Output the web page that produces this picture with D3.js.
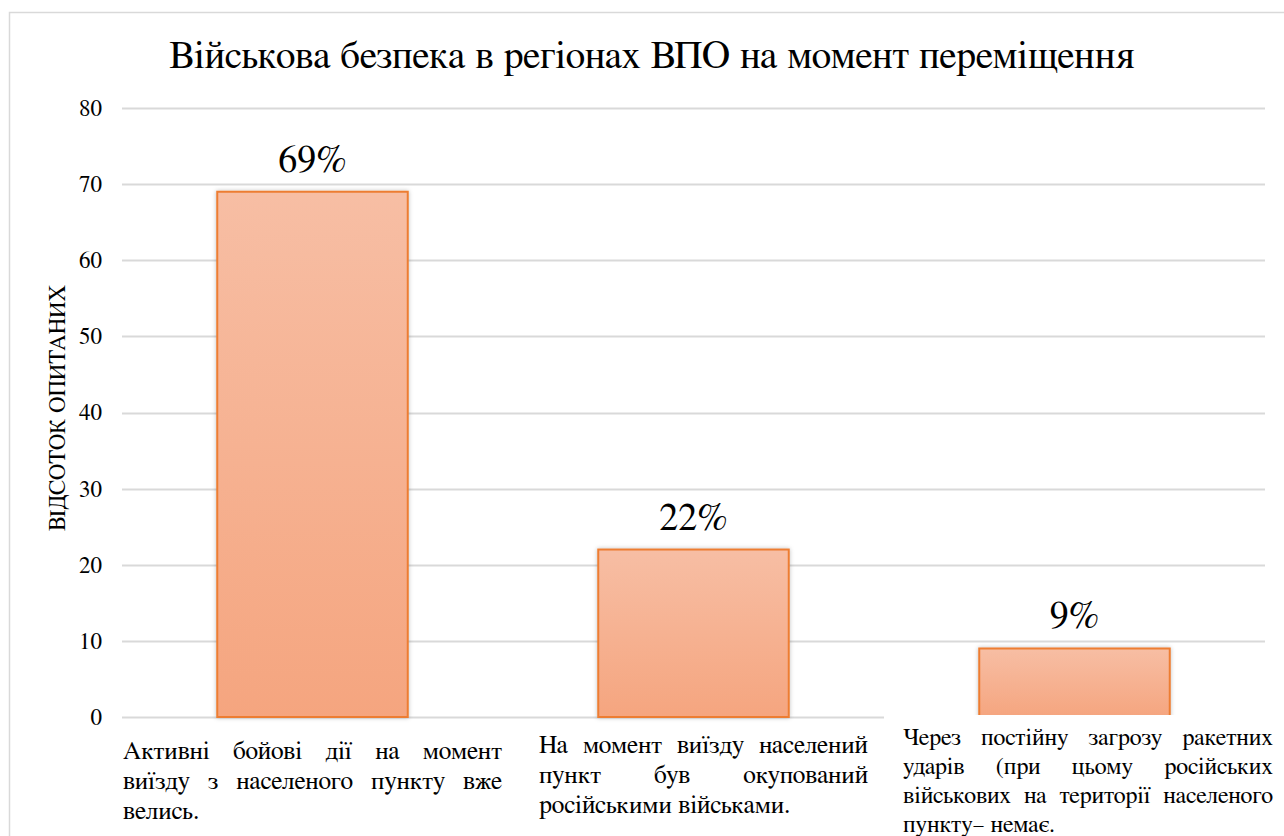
<!DOCTYPE html>
<html><head><meta charset="utf-8">
<script src="https://cdn.jsdelivr.net/npm/d3@7"></script>
<style>body{margin:0;background:#fff}svg{display:block}</style>
</head><body>
<svg id="c" width="1284" height="836"></svg>
<script>
const title = "Військова безпека в регіонах ВПО на момент переміщення";
const yAxisTitle = "ВІДСОТОК ОПИТАНИХ";
const categories = [
  "Активні бойові дії на момент\nвиїзду з населеного пункту вже\nвелись.",
  "На момент виїзду населений\nпункт був окупований\nросійськими військами.",
  "Через постійну загрозу ракетних\nударів (при цьому російських\nвійськових на території населеного\nпункту– немає."
];
const values = [69, 22, 9];
const valueLabels = ["69%", "22%", "9%"];
const yTicks = [0, 10, 20, 30, 40, 50, 60, 70, 80];

const svg = d3.select("#c");
const FONT = "FreeSerif, 'Liberation Serif', serif";
svg.style("font-family", FONT);
const defs = svg.append("defs");
const grad = defs.append("linearGradient").attr("id","g").attr("x1",0).attr("y1",0).attr("x2",0).attr("y2",1);
grad.append("stop").attr("offset","0%").attr("stop-color","#F7BEA4");
grad.append("stop").attr("offset","100%").attr("stop-color","#F5A57F");
const f = defs.append("filter").attr("id","sh").attr("x","-10%").attr("y","-10%").attr("width","120%").attr("height","120%");
f.append("feDropShadow").attr("dx",0).attr("dy",0).attr("stdDeviation",2).attr("flood-color","#000").attr("flood-opacity",0.25);

// chart border
svg.append("rect").attr("x",9.5).attr("y",12.5).attr("width",1400).attr("height",1000)
  .attr("fill","#fff").attr("stroke","#d9d9d9").attr("stroke-width",1.5);

const x = d3.scaleBand().domain(d3.range(categories.length)).range([122,1265]).paddingInner(0.5).paddingOuter(0.25);
const y = d3.scaleLinear().domain([0,80]).range([717,108]);

// gridlines
svg.append("g").selectAll("line").data(yTicks).join("line")
  .attr("x1",122).attr("x2",1265).attr("y1",d=>Math.round(y(d))+0.5).attr("y2",d=>Math.round(y(d))+0.5)
  .attr("stroke","#d9d9d9").attr("stroke-width",2);

// y axis labels
const ax = svg.append("g").attr("transform","translate(122,0)")
  .call(d3.axisLeft(y).tickValues(yTicks).tickSize(0).tickPadding(20).tickFormat(d3.format("d")));
ax.select(".domain").remove();
ax.selectAll("text").style("font-family",FONT).style("font-size","23px").attr("fill","#000");

// y axis title
svg.append("text").attr("transform","translate(65,408) rotate(-90)").attr("text-anchor","middle")
  .style("font-size","23px").attr("fill","#000").text(yAxisTitle);

// title
svg.append("text").attr("x",652).attr("y",68).attr("text-anchor","middle")
  .style("font-size","39.3px").attr("fill","#000").text(title);

// bars
svg.append("g").selectAll("rect").data(values).join("rect")
  .attr("x",(d,i)=>x(i)).attr("y",d=>y(d)).attr("width",x.bandwidth()).attr("height",d=>y(0)-y(d))
  .attr("fill","url(#g)").attr("stroke","#ED7D31").attr("stroke-width",2).attr("filter","url(#sh)");

// value labels
svg.append("g").selectAll("text").data(values).join("text")
  .attr("x",(d,i)=>x(i)+x.bandwidth()/2).attr("y",d=>y(d)-20).attr("text-anchor","middle")
  .style("font-size","38px").attr("fill","#000").text((d,i)=>valueLabels[i]);

// category label boxes (justified)
const boxes = [
  {x0:123, x1:502, top:759, lh:30, fs:25.5},
  {x0:539, x1:868, top:753, lh:30, fs:25.5},
  {x0:903, x1:1273, top:745, lh:29, fs:24}
];
svg.append("rect").attr("x",884).attr("y",715).attr("width",400).attr("height",121).attr("fill","#fff");
categories.forEach((c,i)=>{
  const b = boxes[i];
  const lines = c.split("\n");
  lines.forEach((ln,j)=>{
    const words = ln.split(" ");
    const yy = b.top + j*b.lh;
    const g = svg.append("g");
    const ts = words.map(w=>g.append("text").style("font-size",b.fs+"px").attr("fill","#000").attr("y",yy).text(w));
    const ws = ts.map(t=>t.node().getComputedTextLength());
    const total = d3.sum(ws);
    const last = j===lines.length-1;
    const gap = (!last && words.length>1) ? (b.x1-b.x0-total)/(words.length-1) : b.fs*0.25;
    let cx = b.x0;
    ts.forEach((t,k)=>{ t.attr("x",cx); cx += ws[k]+gap; });
  });
});
</script>
</body></html>
